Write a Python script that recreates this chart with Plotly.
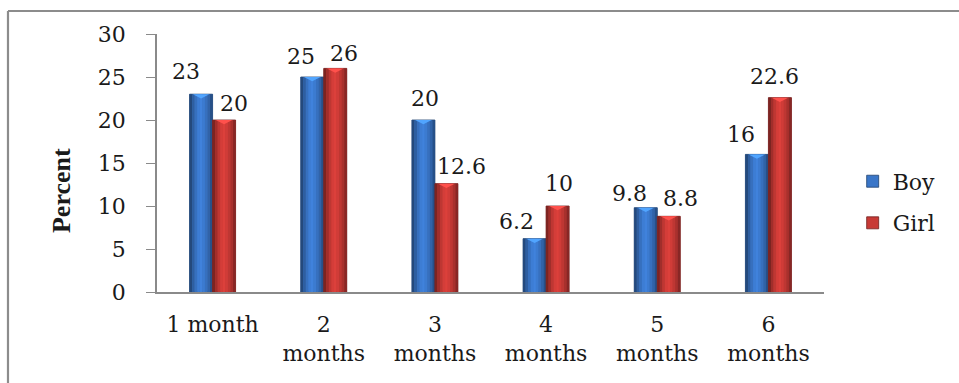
import plotly.graph_objects as go

# ---- data -------------------------------------------------------------
categories = ["1 month", "2<br>months", "3<br>months", "4<br>months", "5<br>months", "6<br>months"]
boy = [23, 25, 20, 6.2, 9.8, 16]
girl = [20, 26, 12.6, 10, 8.8, 22.6]
boy_text = ["23", "25", "20", "6.2", "9.8", "16"]
girl_text = ["20", "26", "12.6", "10", "8.8", "22.6"]
y_ticks = [0, 5, 10, 15, 20, 25, 30]

# ---- label nudges (pixels) ---------------------------------------------
boy_label_dx = [-15, -11, 2, -18, -16, -16]
girl_label_dx = [10, 9, 15, 1, 12, -5]
boy_label_gap = [14, 12, 13, 9, 6, 11]
girl_label_gap = [8, 6, 9, 14, 9, 13]

# ---- styling ----------------------------------------------------------
FONT = "DejaVu Serif"
FS = 22
TXT = "#1a1a1a"
AXIS = "#8a8a8a"
W = 0.207                      # one bar, in category units
BLUE = (58, 118, 200)
RED = (200, 58, 54)
shade = [0.62, 0.80, 0.95, 1.06, 1.10, 1.04, 0.95, 0.84, 0.68]


def tint(c, f):
    return "rgb(%d,%d,%d)" % tuple(max(0, min(255, int(round(v * f)))) for v in c)


x_idx = list(range(len(categories)))
fig = go.Figure()

series = [("Boy", boy, BLUE, -W), ("Girl", girl, RED, 0.0)]
for name, vals, col, off in series:
    # base bar carries the outline and the legend entry
    fig.add_trace(go.Bar(
        name=name, x=x_idx, y=vals, width=W, offset=off,
        marker=dict(color=tint(col, 1.0), line=dict(color=tint(col, 0.55), width=0.8)),
        legendgroup=name, showlegend=True,
    ))
    # vertical stripes give the rounded, shaded look
    n = len(shade)
    sw = W / n
    for k, f in enumerate(shade):
        fig.add_trace(go.Bar(
            x=x_idx, y=vals, width=sw * 1.02, offset=off + k * sw,
            marker=dict(color=tint(col, f), line=dict(width=0)),
            showlegend=False, hoverinfo="skip", legendgroup=name,
        ))
    # light bevel chevron on each bar top
    xs, ys = [], []
    for i, v in zip(x_idx, vals):
        c = i + off + W / 2
        xs += [c - W * 0.36, c + W * 0.36, c, c - W * 0.36, None]
        ys += [v, v, v - 0.5, v, None]
    fig.add_trace(go.Scatter(
        x=xs, y=ys, mode="lines", fill="toself",
        fillcolor=tint(col, 1.4), line=dict(width=0, color=tint(col, 1.4)),
        showlegend=False, hoverinfo="skip",
    ))

# value labels
annotations = []
for vals, texts, dxs, gaps, off in [
    (boy, boy_text, boy_label_dx, boy_label_gap, -W / 2),
    (girl, girl_text, girl_label_dx, girl_label_gap, W / 2),
]:
    for i, v, t, dx, g in zip(x_idx, vals, texts, dxs, gaps):
        annotations.append(dict(
            x=i + off, y=v, xref="x", yref="y", text=t, showarrow=False,
            xanchor="center", yanchor="bottom", xshift=dx, yshift=g - 6,
            font=dict(family=FONT, size=FS, color=TXT),
        ))

# y-axis title
annotations.append(dict(
    x=-0.144, y=0.395, xref="paper", yref="paper", text="<b>Percent</b>",
    textangle=-90, showarrow=False, xanchor="center", yanchor="middle",
    font=dict(family="Liberation Serif", size=26, color=TXT),
))

fig.update_layout(
    width=959, height=383,
    margin=dict(l=157, r=135, t=34, b=91, pad=0),
    paper_bgcolor="white", plot_bgcolor="white",
    barmode="overlay",
    showlegend=True,
    legend=dict(
        x=1.043, y=0.51, xanchor="left", yanchor="top",
        font=dict(family=FONT, size=FS, color=TXT),
        tracegroupgap=10, bgcolor="rgba(0,0,0,0)",
    ),
    annotations=annotations,
    shapes=[
        dict(type="line", xref="paper", yref="paper", x0=-0.2234, x1=1.25,
             y0=1.0891, y1=1.0891, line=dict(color="#8c8c8c", width=2.2)),
        dict(type="line", xref="paper", yref="paper", x0=-0.2234, x1=-0.2234,
             y0=1.0891, y1=-0.4, line=dict(color="#8c8c8c", width=2.2)),
    ],
)

fig.update_xaxes(
    range=[-0.5, 5.5], tickmode="array", tickvals=x_idx, ticktext=categories,
    showline=True, linecolor=AXIS, linewidth=1.5, ticks="", showgrid=False,
    zeroline=False, tickfont=dict(family=FONT, size=FS, color=TXT),
    ticklabelstandoff=12,
)
fig.update_yaxes(
    range=[0, 30], tickmode="array", tickvals=y_ticks,
    showline=True, linecolor=AXIS, linewidth=1.5,
    ticks="outside", ticklen=9, tickcolor=AXIS, tickwidth=1.2,
    showgrid=False, zeroline=False,
    tickfont=dict(family=FONT, size=FS, color=TXT),
    ticklabelstandoff=16,
)

fig.write_html("out.html")
